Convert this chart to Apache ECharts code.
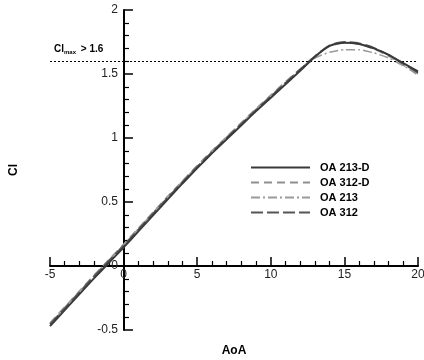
<!DOCTYPE html>
<html>
<head>
<meta charset="utf-8">
<style>
  html, body { margin: 0; padding: 0; background: #fff; }
  #chart { width: 424px; height: 360px; }
</style>
<script src="https://cdn.jsdelivr.net/npm/echarts@6/dist/echarts.min.js"></script>
</head>
<body>
<div id="chart"></div>
<script>
// angle of attack, deg
var aoa = [-5, -4, -3, -2, -1, 0, 1, 2, 3, 4, 5, 6, 7, 8, 9, 10, 11, 12, 13, 14, 15, 16, 17, 18, 19, 20];
// lift coefficient per profile
var oa213d = [-0.47, -0.345, -0.22, -0.095, 0.025, 0.145, 0.27, 0.395, 0.52, 0.645, 0.765, 0.88, 0.99, 1.10, 1.21, 1.315, 1.42, 1.525, 1.635, 1.72, 1.745, 1.735, 1.70, 1.65, 1.585, 1.52];
var oa312d = [-0.445, -0.32, -0.195, -0.07, 0.05, 0.17, 0.295, 0.42, 0.545, 0.665, 0.785, 0.9, 1.01, 1.12, 1.23, 1.335, 1.44, 1.54, 1.64, 1.72, 1.745, 1.735, 1.695, 1.64, 1.57, 1.49];
var oa213 = [-0.45, -0.325, -0.2, -0.075, 0.045, 0.165, 0.29, 0.415, 0.54, 0.66, 0.78, 0.895, 1.005, 1.115, 1.225, 1.33, 1.435, 1.535, 1.625, 1.67, 1.69, 1.69, 1.665, 1.625, 1.565, 1.5];
var oa312 = [-0.455, -0.33, -0.205, -0.08, 0.04, 0.16, 0.285, 0.41, 0.535, 0.655, 0.775, 0.89, 1.0, 1.11, 1.22, 1.325, 1.43, 1.535, 1.64, 1.725, 1.75, 1.74, 1.705, 1.65, 1.58, 1.51];
var names = ['OA 213-D', 'OA 312-D', 'OA 213', 'OA 312'];
var clMax = 1.6;

function pairs(ys) {
  return aoa.map(function (x, i) { return [x, ys[i]]; });
}

var chart = echarts.init(document.getElementById('chart'));
var font = 'Liberation Sans, Arial, sans-serif';

var option = {
  animation: false,
  textStyle: { fontFamily: font },
  grid: { left: 50, right: 6, top: 10, bottom: 30, containLabel: false, outerBoundsMode: 'none' },
  legend: {
    orient: 'vertical',
    left: 250,
    top: 162,
    padding: 0,
    itemWidth: 59,
    itemHeight: 8,
    itemGap: 4,
    itemStyle: { opacity: 0 },
    textStyle: { fontFamily: font, fontWeight: 'bold', fontSize: 11, color: '#000', padding: [0, 0, 0, 5] },
    data: names
  },
  xAxis: {
    type: 'value',
    min: -5, max: 20, interval: 5,
    offset: -64,
    name: 'AoA', nameLocation: 'middle', nameGap: 79,
    nameTextStyle: { fontFamily: font, fontWeight: 'bold', fontSize: 12, color: '#000' },
    axisLine: { onZero: false, lineStyle: { color: '#000', width: 2 } },
    axisTick: { inside: true, length: 9, lineStyle: { color: '#000', width: 1.5 } },
    minorTick: { show: true, splitNumber: 5, length: 5, lineStyle: { color: '#000', width: 1.2 } },
    axisLabel: { color: '#222', fontSize: 12, margin: 3, showMaxLabel: true, hideOverlap: false },
    splitLine: { show: false }
  },
  yAxis: {
    type: 'value',
    min: -0.5, max: 2, interval: 0.5,
    offset: -74,
    name: 'Cl', nameLocation: 'middle', nameGap: 104,
    nameTextStyle: { fontFamily: font, fontWeight: 'bold', fontSize: 12, color: '#000' },
    axisLine: { onZero: false, lineStyle: { color: '#000', width: 2 } },
    axisTick: { inside: true, length: 9, lineStyle: { color: '#000', width: 1.5 } },
    minorTick: { show: true, splitNumber: 5, length: 5, lineStyle: { color: '#000', width: 1.2 } },
    axisLabel: { color: '#222', fontSize: 12, margin: 6 },
    splitLine: { show: false }
  },
  series: [
    {
      name: names[0], type: 'line', data: pairs(oa213d), symbol: 'none', smooth: 0.2,
      color: '#3a3a3a', lineStyle: { color: '#3a3a3a', width: 2, type: 'solid' }, z: 5,
      markLine: {
        silent: true, symbol: 'none',
        lineStyle: { color: '#000', width: 1, type: [2, 2] },
        label: {
          position: 'insideStartTop', distance: [4, 6],
          formatter: '{a|Cl}{s|max}{a| > 1.6}',
          rich: {
            a: { fontFamily: font, fontWeight: 'bold', fontSize: 10, color: '#000' },
            s: { fontFamily: font, fontWeight: 'bold', fontSize: 6, color: '#000', padding: [6, 2, 0, 0] }
          }
        },
        data: [{ yAxis: clMax }]
      }
    },
    {
      name: names[1], type: 'line', data: pairs(oa312d), symbol: 'none', smooth: 0.2,
      color: '#8f8f8f', lineStyle: { color: '#8f8f8f', width: 1.5, type: [8, 5] }, z: 3
    },
    {
      name: names[2], type: 'line', data: pairs(oa213), symbol: 'none', smooth: 0.2,
      color: '#9a9a9a', lineStyle: { color: '#9a9a9a', width: 1.5, type: [9, 3, 2, 3] }, z: 4
    },
    {
      name: names[3], type: 'line', data: pairs(oa312), symbol: 'none', smooth: 0.2,
      color: '#555', lineStyle: { color: '#555', width: 1.8, type: [12, 4] }, z: 4
    }
  ]
};
chart.setOption(option);
</script>
</body>
</html>
